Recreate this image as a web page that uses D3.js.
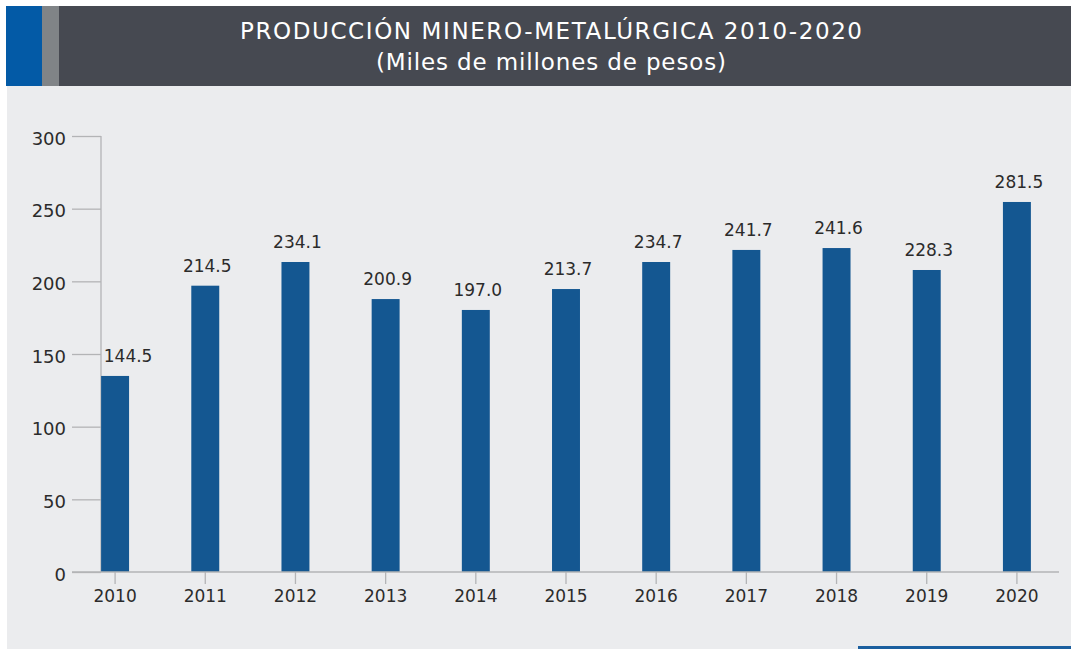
<!DOCTYPE html>
<meta charset="utf-8">
<head>
<title>Producción minero-metalúrgica 2010-2020</title>
<style>
body { margin: 0; background: #fff; }
svg { display: block; }
.title { font: 23px "DejaVu Sans", sans-serif; fill: #fff; }
.axis text, .label { font: 17px "DejaVu Sans", sans-serif; fill: #2b2b2b; }
.yaxis text { font-size: 18px; }
.axis path, .axis line { stroke: #b3b4b6; stroke-width: 1.3; }
</style>
</head>
<body>
<script src="https://cdn.jsdelivr.net/npm/d3@7"></script>
<script>

    // Data
    var years = ["2010", "2011", "2012", "2013", "2014", "2015", "2016", "2017", "2018", "2019", "2020"];
    // bar heights as drawn
    var barValues = [134.9, 197.0, 213.3, 187.8, 180.3, 194.7, 213.3, 221.6, 222.9, 207.8, 254.6];
    // printed labels
    var labelValues = ["144.5", "214.5", "234.1", "200.9", "197.0", "213.7", "234.7", "241.7", "241.6", "228.3", "281.5"];
    var yTicks = [0, 50, 100, 150, 200, 250, 300];

    var W = 1071, H = 649;

    var svg = d3.select("body").append("svg")
        .attr("width", W)
        .attr("height", H);

    // panel background
    svg.append("rect")
        .attr("x", 7).attr("y", 86)
        .attr("width", W - 7).attr("height", H - 86)
        .attr("fill", "#ebecee");

    // header band
    svg.append("rect")
        .attr("x", 6).attr("y", 6)
        .attr("width", W - 6).attr("height", 80)
        .attr("fill", "#464951");
    svg.append("rect")
        .attr("x", 6).attr("y", 6)
        .attr("width", 36).attr("height", 80)
        .attr("fill", "#035aa6");
    svg.append("rect")
        .attr("x", 42).attr("y", 6)
        .attr("width", 17).attr("height", 80)
        .attr("fill", "#808487");

    svg.append("text")
        .attr("class", "title")
        .attr("x", 551).attr("y", 39)
        .attr("text-anchor", "middle")
        .attr("textLength", 622)
        .attr("lengthAdjust", "spacing")
        .text("PRODUCCIÓN MINERO-METALÚRGICA 2010-2020");
    svg.append("text")
        .attr("class", "title")
        .attr("x", 551).attr("y", 70)
        .attr("text-anchor", "middle")
        .attr("textLength", 350)
        .attr("lengthAdjust", "spacing")
        .text("(Miles de millones de pesos)");

    // bottom accent line
    svg.append("rect")
        .attr("x", 858).attr("y", 646)
        .attr("width", W - 858).attr("height", 3)
        .attr("fill", "#1b5f9f");

    // Scales
    var x = d3.scaleBand()
        .domain(years)
        .range([70, 1062])
        .paddingInner(0.69)
        .paddingOuter(0.345);

    var y = d3.scaleLinear()
        .domain([0, 300])
        .range([572, 136]);

    // y axis
    var yAxis = svg.append("g")
        .attr("class", "axis yaxis")
        .attr("transform", "translate(101,0)")
        .call(d3.axisLeft(y).tickValues(yTicks).tickSize(29).tickPadding(6));
    yAxis.select(".domain").attr("d", "M0," + y(300) + "V" + y(0));
    yAxis.selectAll("text").attr("dy", "0.45em");

    // bars
    svg.selectAll(".bar")
        .data(years)
        .enter().append("rect")
        .attr("class", "bar")
        .attr("x", function(d) { return x(d); })
        .attr("width", x.bandwidth())
        .attr("y", function(d, i) { return y(barValues[i]); })
        .attr("height", function(d, i) { return y(0) - y(barValues[i]); })
        .attr("fill", "#145791");

    // x axis
    var xAxis = svg.append("g")
        .attr("class", "axis")
        .attr("transform", "translate(0," + y(0) + ")")
        .call(d3.axisBottom(x).tickSize(12).tickPadding(6).tickSizeOuter(0));
    xAxis.select(".domain").attr("d", "M72,0H1059");

    // value labels
    svg.selectAll(".label")
        .data(years)
        .enter().append("text")
        .attr("class", "label")
        .attr("text-anchor", "middle")
        .attr("x", function(d, i) { return x(d) + x.bandwidth() / 2 + (i === 0 ? 13 : 2); })
        .attr("y", function(d, i) { return y(barValues[i]) - 14; })
        .text(function(d, i) { return labelValues[i]; });

</script>
</body>
